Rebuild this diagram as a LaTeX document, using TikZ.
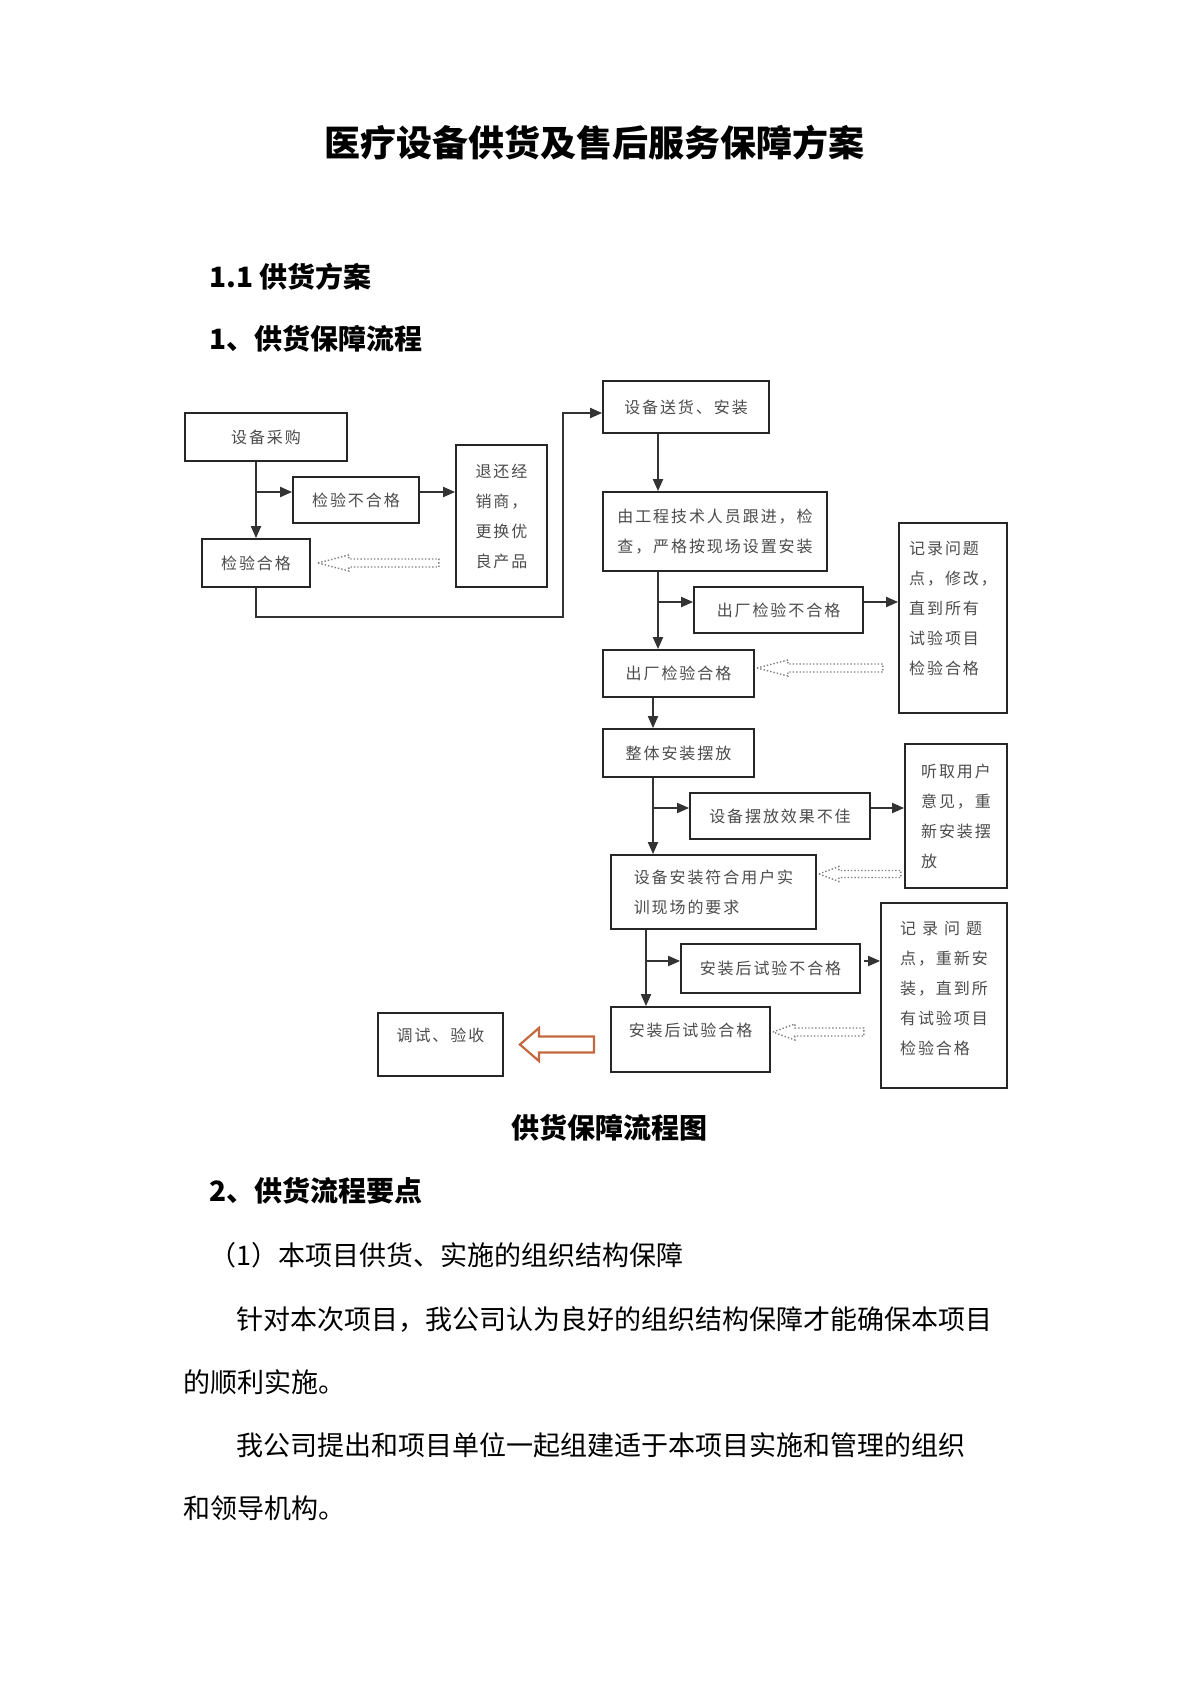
\documentclass[tikz,border=0pt]{standalone}
\usepackage{fontspec}
\setmainfont{Noto Sans CJK SC}
\newfontfamily\boxfont{Noto Sans CJK SC}[LetterSpace=12]
\usepackage{tikz}
\usetikzlibrary{arrows.meta,calc}
\definecolor{boxtext}{gray}{0.3}
\definecolor{arrowrust}{RGB}{196,104,64}
\newcommand{\hollowarrow}[6][dotarrow]{%
  \draw[#1] #2 -- ++(#3,-#5) -- ++(0,{#5-#6}) -- ++(#4,0) -- ++(0,{2*#6}) -- ++(-#4,0) -- ++(0,{#5-#6}) -- cycle;}

\begin{document}
\begin{tikzpicture}[yscale=-1, x=0.5pt, y=0.5pt,
	box/.style={rectangle, draw=black!85, line width=0.9pt, inner sep=0pt, align=left, text=boxtext, font=\boxfont\fontsize{8}{15}\selectfont},
	conn/.style={line width=1pt, draw=black!80, -{Triangle[length=6pt,width=5pt]}},
	dotarrow/.style={draw=black!50, densely dotted, line width=0.7pt},
	orangearrow/.style={draw=arrowrust, line width=1.1pt, fill=white},
	heading/.style={anchor=west, inner sep=0pt, font=\bfseries\fontsize{14}{14}\selectfont},
	body/.style={anchor=west, inner sep=0pt, font=\fontsize{13.5}{13.5}\selectfont}]
		\useasboundingbox[fill=white] (0,0) rectangle (1190,1684);
		\node[font=\bfseries\fontsize{18}{18}\selectfont] (title) at (594,143) {医疗设备供货及售后服务保障方案};
		\node[heading] (h11) at (209,277) {1.1 供货方案};
		\node[heading] (h1) at (209,339) {1、供货保障流程};
		\node[box, minimum width=81pt, minimum height=24pt] (buy) at (266,437) {设备采购};
		\node[box, minimum width=63pt, minimum height=23pt] (chkA) at (356,500) {检验不合格};
		\node[box, minimum width=45.5pt, minimum height=71pt] (ret) at (501.5,516) {退还经\\销商，\\更换优\\良产品};
		\node[box, minimum width=54pt, minimum height=24pt] (okA) at (256,563) {检验合格};
		\node[box, minimum width=83pt, minimum height=26pt] (send) at (686,407) {设备送货、安装};
		\node[box, minimum width=112pt, minimum height=39.5pt] (exam) at (715,531.5) {由工程技术人员跟进，检\\查，严格按现场设置安装};
		\node[box, minimum width=84.5pt, minimum height=23pt] (fNo) at (778.5,610) {出厂检验不合格};
		\node[box, minimum width=54pt, minimum height=95pt, text depth=10pt] (rec1) at (953,618) {记录问题\\点，修改，\\直到所有\\试验项目\\检验合格};
		\node[box, minimum width=75.5pt, minimum height=23.5pt] (fOk) at (678.5,673.5) {出厂检验合格};
		\node[box, minimum width=75.5pt, minimum height=24pt] (whole) at (678.5,753) {整体安装摆放};
		\node[box, minimum width=90pt, minimum height=23pt] (bad) at (780,816) {设备摆放效果不佳};
		\node[box, minimum width=51pt, minimum height=72pt] (listen) at (956,816) {听取用户\\意见，重\\新安装摆\\放};
		\node[box, minimum width=102.5pt, minimum height=37pt] (fit) at (713.5,892) {设备安装符合用户实\\训现场的要求};
		\node[box, minimum width=89.5pt, minimum height=24.5pt] (tNo) at (770.5,968.5) {安装后试验不合格};
		\node[box, minimum width=63pt, minimum height=92.5pt, text depth=8pt] (rec2) at (944,995.5) {记\hspace{3pt}录\hspace{3pt}问\hspace{3pt}题\\点，重新安\\装，直到所\\有试验项目\\检验合格};
		\node[box, minimum width=79.5pt, minimum height=32.5pt, text depth=10pt] (tOk) at (690.5,1039.5) {安装后试验合格};
		\node[box, minimum width=62.5pt, minimum height=31.5pt, text depth=10pt] (done) at (440.5,1044.5) {调试、验收};
		\draw[conn] (okA.north |- buy.south) -- (okA.north);
		\coordinate (bA) at (257,492);
		\draw[conn] (bA) -- (bA -| chkA.west);
		\draw[conn] (bA -| chkA.east) -- (bA -| ret.west);
		\coordinate (turn) at (563,617);
		\draw[conn] (okA.south) |- (turn) |- ($(send.west)+(0,6)$);
		\coordinate (sA) at (658,0);
		\draw[conn] (send.south -| sA) -- (exam.north -| sA);
		\draw[conn] (exam.south -| sA) -- (fOk.north -| sA);
		\coordinate (bB) at (658,602);
		\draw[conn] (bB) -- (bB -| fNo.west);
		\draw[conn] (bB -| fNo.east) -- (bB -| rec1.west);
		\coordinate (sB) at (653,0);
		\draw[conn] (fOk.south -| sB) -- (whole.north -| sB);
		\draw[conn] (whole.south -| sB) -- (fit.north -| sB);
		\coordinate (bC) at (653,808);
		\draw[conn] (bC) -- (bC -| bad.west);
		\draw[conn] (bC -| bad.east) -- (bC -| listen.west);
		\coordinate (sC) at (646,0);
		\draw[conn] (fit.south -| sC) -- (tOk.north -| sC);
		\coordinate (bD) at (646,961);
		\draw[conn] (bD) -- (bD -| tNo.west);
		\draw[conn] ($(bD -| tNo.east)+(3,0)$) -- (bD -| rec2.west);
		\hollowarrow{($(okA.east)+(7,0)$)}{31}{90}{8}{4}
		\hollowarrow{($(fOk.east)+(2,-5.5)$)}{31}{95}{8}{4}
		\hollowarrow{($(fit.east)+(2,-18)$)}{20}{62}{7.5}{3.5}
		\hollowarrow{($(tOk.east)+(2,-7.5)$)}{22}{69}{8}{4}
		\hollowarrow[orangearrow]{($(done.east)+(16,0)$)}{19}{55}{16.5}{8}
		\node[font=\bfseries\fontsize{14}{14}\selectfont] (cap) at (609,1128) {供货保障流程图};
		\node[heading] (h2) at (209,1191) {2、供货流程要点};
		\node[body] (p1) at (209,1255) {（1）本项目供货、实施的组织结构保障};
		\node[body] (p2) at (236,1319) {针对本次项目，我公司认为良好的组织结构保障才能确保本项目};
		\node[body] (p3) at (183,1382) {的顺利实施。};
		\node[body] (p4) at (236,1445) {我公司提出和项目单位一起组建适于本项目实施和管理的组织};
		\node[body] (p5) at (183,1508) {和领导机构。};
	\end{tikzpicture}
\end{document}
